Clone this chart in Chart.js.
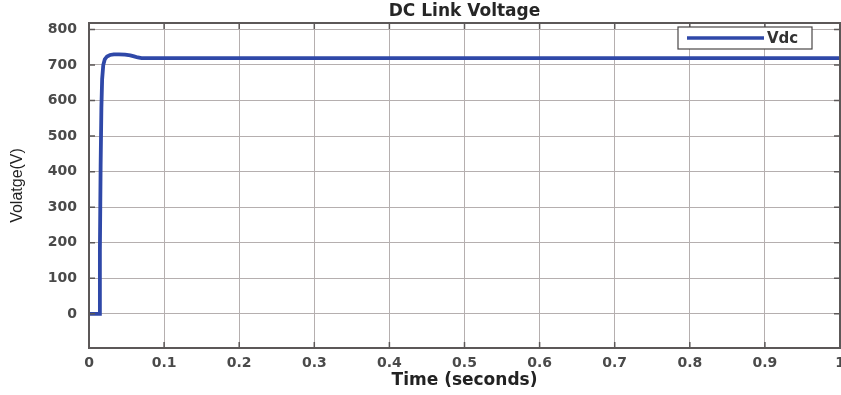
<!DOCTYPE html>
<html>
<head>
<meta charset="utf-8">
<title>DC Link Voltage</title>
<script src="https://cdn.jsdelivr.net/npm/chart.js@4/dist/chart.umd.min.js"></script>
<style>
  html, body { margin: 0; padding: 0; background: #ffffff; }
  #wrap { width: 841px; height: 395px; }
</style>
</head>
<body>
<div id="wrap"><canvas id="c" width="841" height="395"></canvas></div>
<script>
// Simulated DC link voltage response (time in seconds, voltage in volts)
const timeS = [0, 0.0135, 0.0145, 0.0155, 0.0165, 0.0175, 0.019, 0.021, 0.024, 0.028, 0.033, 0.040, 0.048, 0.055, 0.060, 0.065, 0.070, 0.080, 0.2, 0.4, 0.6, 0.8, 1.0];
const vdc   = [0, 0, 180, 420, 580, 660, 700, 716, 724, 728, 730, 730, 729, 727, 724, 721, 719, 719, 719, 719, 719, 719, 719];

const xTicks = [0, 0.1, 0.2, 0.3, 0.4, 0.5, 0.6, 0.7, 0.8, 0.9, 1];
const yTicks = [0, 100, 200, 300, 400, 500, 600, 700, 800];

const seriesName = 'Vdc';
const chartTitle = 'DC Link Voltage';
const xTitle = 'Time (seconds)';
const yTitle = 'Volatge(V)';

const lineColor = '#2f48a8';
const frameColor = '#5c5858';
const gridColor = '#b5afaf';
const textColor = '#4a4a4a';

// Axes box, inward tick marks and the legend box
const framePlugin = {
  id: 'frame',
  afterDraw(chart) {
    const { ctx, chartArea: a, scales } = chart;
    ctx.save();
    ctx.strokeStyle = frameColor;
    ctx.lineWidth = 1.5;
    ctx.beginPath();
    xTicks.forEach(v => {
      const px = scales.x.getPixelForValue(v);
      ctx.moveTo(px, a.bottom); ctx.lineTo(px, a.bottom - 6);
      ctx.moveTo(px, a.top); ctx.lineTo(px, a.top + 6);
    });
    yTicks.forEach(v => {
      const py = scales.y.getPixelForValue(v);
      ctx.moveTo(a.left, py); ctx.lineTo(a.left + 6, py);
      ctx.moveTo(a.right, py); ctx.lineTo(a.right - 6, py);
    });
    ctx.stroke();
    ctx.lineWidth = 2;
    ctx.strokeRect(a.left, a.top, a.right - a.left, a.bottom - a.top);

    // legend
    const bx = a.right - 162, by = a.top + 4, bw = 134, bh = 22;
    ctx.fillStyle = '#ffffff';
    ctx.fillRect(bx, by, bw, bh);
    ctx.lineWidth = 1.2;
    ctx.strokeStyle = '#4a4646';
    ctx.strokeRect(bx, by, bw, bh);
    ctx.strokeStyle = lineColor;
    ctx.lineWidth = 3.5;
    ctx.beginPath();
    ctx.moveTo(bx + 9, by + bh / 2);
    ctx.lineTo(bx + 86, by + bh / 2);
    ctx.stroke();
    ctx.fillStyle = '#333333';
    ctx.font = 'bold 15px "DejaVu Sans"';
    ctx.textBaseline = 'middle';
    ctx.textAlign = 'left';
    ctx.fillText(chart.data.datasets[0].label, bx + 89, by + bh / 2 + 1);
    ctx.restore();
  }
};

const tickFont = { family: '"DejaVu Sans"', size: 14, weight: 'bold' };

new Chart(document.getElementById('c'), {
  type: 'line',
  data: {
    datasets: [{
      label: seriesName,
      data: timeS.map((t, i) => ({ x: t, y: vdc[i] })),
      borderColor: lineColor,
      backgroundColor: lineColor,
      borderWidth: 3.8,
      pointRadius: 0,
      tension: 0,
      fill: false
    }]
  },
  options: {
    responsive: false,
    animation: false,
    layout: { padding: { left: 0, right: 1, top: 0, bottom: 0 } },
    plugins: {
      legend: { display: false },
      tooltip: { enabled: false },
      title: { display: false }
    },
    scales: {
      // top axis only carries the chart title, centred over the plot area
      top: {
        type: 'linear',
        position: 'top',
        min: 0,
        max: 1,
        afterFit: s => { s.height = 23; s.paddingLeft = 0; s.paddingRight = 0; },
        grid: { display: false, drawTicks: false },
        border: { display: false },
        ticks: { display: false },
        title: {
          display: true,
          text: chartTitle,
          color: '#262626',
          font: { family: '"DejaVu Sans"', size: 17, weight: 'bold', lineHeight: 1.2 },
          padding: { top: 1, bottom: 0 }
        }
      },
      x: {
        type: 'linear',
        position: 'bottom',
        min: 0,
        max: 1,
        afterBuildTicks: s => { s.ticks = xTicks.map(v => ({ value: v })); },
        afterFit: s => { s.height = 47; s.paddingLeft = 0; s.paddingRight = 0; },
        grid: { color: gridColor, lineWidth: 1, drawTicks: false },
        border: { display: false },
        ticks: {
          padding: 7,
          maxRotation: 0,
          autoSkip: false,
          color: textColor,
          font: tickFont,
          callback: v => String(v)
        },
        title: {
          display: true,
          text: xTitle,
          color: '#222222',
          font: { family: '"DejaVu Sans"', size: 17, weight: 'bold', lineHeight: 1.2 },
          padding: { top: 0, bottom: 4 }
        }
      },
      y: {
        type: 'linear',
        min: -96,
        max: 818,
        afterBuildTicks: s => { s.ticks = yTicks.map(v => ({ value: v })); },
        afterFit: s => { s.width = 89; },
        grid: { color: gridColor, lineWidth: 1, drawTicks: false },
        border: { display: false },
        ticks: {
          padding: 12,
          color: textColor,
          font: tickFont,
          callback: v => String(v)
        },
        title: {
          display: true,
          text: yTitle,
          color: '#222222',
          font: { family: '"Liberation Sans"', size: 16, weight: 'normal', lineHeight: 1.2 },
          padding: { top: 8, bottom: 0 }
        }
      }
    }
  },
  plugins: [framePlugin]
});
</script>
</body>
</html>
